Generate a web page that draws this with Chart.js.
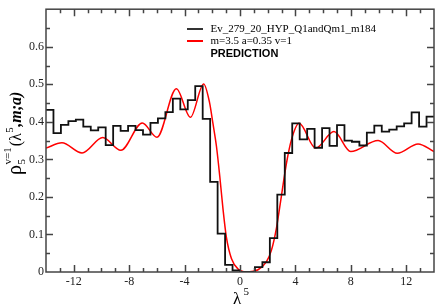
<!DOCTYPE html>
<html>
<head>
<meta charset="utf-8">
<script src="https://cdn.jsdelivr.net/npm/chart.js@4.4.1/dist/chart.umd.min.js"></script>
<style>
  html, body { margin: 0; padding: 0; background: #fff; }
  canvas { display: block; }
</style>
</head>
<body>
<canvas id="chart" width="436" height="307"></canvas>
<script>
// tick labels
const xTickValues = [-12, -8, -4, 0, 4, 8, 12];
const yTickValues = [0, 0.1, 0.2, 0.3, 0.4, 0.5, 0.6];

// histogram: 52 equal bins between histStart and histEnd
const histStart = -14;
const histEnd = 14;
const histValues = [
  0.432, 0.370, 0.392, 0.402, 0.406, 0.387, 0.377, 0.385, 0.338, 0.389,
  0.376, 0.389, 0.378, 0.366, 0.397, 0.409, 0.426, 0.462, 0.433, 0.458,
  0.495, 0.408, 0.240, 0.102, 0.019, 0.004, 0.000, 0.000, 0.013, 0.026,
  0.090, 0.206, 0.317, 0.396, 0.353, 0.381, 0.331, 0.383, 0.336, 0.391,
  0.350, 0.347, 0.337, 0.371, 0.390, 0.374, 0.379, 0.388, 0.396, 0.425,
  0.387, 0.414
];

// prediction curve
const predX = [
  -14.0, -12.85, -11.4, -9.9, -8.6, -7.05, -5.99, -4.59, -3.58, -2.62,
  -2.2, -1.95, -1.70, -1.46, -1.23, -0.98, -0.62, -0.14, 0.55, 1.30,
  1.90, 2.26, 2.63, 2.99, 3.35, 3.71, 4.26, 5.46, 6.78, 7.99,
  9.97, 11.35, 12.85, 14.0
];
const predY = [
  0.330, 0.344, 0.317, 0.358, 0.324, 0.397, 0.359, 0.488, 0.412, 0.501,
  0.452, 0.395, 0.335, 0.255, 0.169, 0.092, 0.036, 0.008, 0.000, 0.006,
  0.027, 0.057, 0.117, 0.203, 0.289, 0.352, 0.396, 0.330, 0.374, 0.321,
  0.350, 0.316, 0.341, 0.321
];

const histLabel = 'Ev_279_20_HYP_Q1andQm1_m184';
const predLabel = 'm=3.5 a=0.35 v=1';
const noteLabel = 'PREDICTION';

const serif = '"Liberation Serif", "Times New Roman", serif';
const sans = '"Liberation Sans", Arial, sans-serif';

const binW = (histEnd - histStart) / histValues.length;
const histData = [];
for (let i = 0; i <= histValues.length; i++) {
  histData.push({ x: histStart + i * binW, y: histValues[Math.min(i, histValues.length - 1)] });
}
const predData = predX.map((x, i) => ({ x: x, y: predY[i] }));

// frame with inward ticks on all four sides
const framePlugin = {
  id: 'frame',
  afterDraw(chart) {
    const { ctx, chartArea: a, scales } = chart;
    const xs = scales.x, ys = scales.y;
    ctx.save();
    ctx.strokeStyle = '#444';
    ctx.lineWidth = 1.5;
    ctx.strokeRect(a.left, a.top, a.right - a.left, a.bottom - a.top);
    ctx.beginPath();
    for (let v = xs.min; v <= xs.max; v += 1) {
      if (v === xs.min || v === xs.max) continue;
      const len = xTickValues.includes(v) ? 7 : 4;
      const px = Math.round(xs.getPixelForValue(v)) + 0.5;
      ctx.moveTo(px, a.bottom); ctx.lineTo(px, a.bottom - len);
      ctx.moveTo(px, a.top); ctx.lineTo(px, a.top + len);
    }
    for (let i = 1; i < 14; i++) {
      const v = i * 0.05;
      const len = i % 2 === 0 ? 7 : 4;
      const py = Math.round(ys.getPixelForValue(v)) + 0.5;
      ctx.moveTo(a.left, py); ctx.lineTo(a.left + len, py);
      ctx.moveTo(a.right, py); ctx.lineTo(a.right - len, py);
    }
    ctx.stroke();
    ctx.restore();
  }
};

// legend in the upper right of the plot
const legendPlugin = {
  id: 'innerLegend',
  afterDraw(chart) {
    const ctx = chart.ctx;
    const sets = chart.data.datasets;
    ctx.save();
    ctx.textBaseline = 'middle';
    ctx.textAlign = 'left';
    const rows = [29, 41];
    sets.forEach((ds, i) => {
      ctx.strokeStyle = ds.legendColor || ds.borderColor;
      ctx.lineWidth = 2;
      ctx.beginPath();
      ctx.moveTo(187, rows[i]);
      ctx.lineTo(203, rows[i]);
      ctx.stroke();
      ctx.fillStyle = '#000';
      ctx.font = '11px ' + serif;
      ctx.fillText(ds.label, 210.5, rows[i] + 0.5);
    });
    ctx.font = 'bold 11px ' + sans;
    ctx.fillText(noteLabel, 210.5, 54);
    ctx.restore();
  }
};

// axis titles with sub/superscripts
const titlePlugin = {
  id: 'titles',
  afterDraw(chart) {
    const ctx = chart.ctx;
    ctx.save();
    ctx.fillStyle = '#000';
    ctx.textBaseline = 'alphabetic';
    ctx.textAlign = 'left';

    // x title: lambda^5
    ctx.font = '17px ' + serif;
    ctx.fillText('\u03bb', 233, 304);
    ctx.font = '11px ' + serif;
    ctx.fillText('5', 243.5, 295);

    // y title: rho_5^{v=1}(lambda^5,m;a)
    ctx.translate(21, 175);
    ctx.rotate(-Math.PI / 2);
    let x = 0;
    ctx.font = '20px ' + serif;
    ctx.fillText('\u03c1', x, 0);
    x += ctx.measureText('\u03c1').width + 0.5;
    ctx.font = '11px ' + serif;
    ctx.fillText('5', x, 4);
    ctx.fillText('v=1', x, -10);
    x += ctx.measureText('v=1').width + 1;
    ctx.font = '16px ' + serif;
    ctx.fillText('(\u03bb', x, 0);
    x += ctx.measureText('(\u03bb').width + 0.5;
    ctx.font = '11px ' + serif;
    ctx.fillText('5', x, -8);
    x += ctx.measureText('5').width + 0.5;
    ctx.font = 'italic bold 16px ' + serif;
    ctx.fillText(',m;a)', x, 0);
    ctx.restore();
  }
};

new Chart(document.getElementById('chart'), {
  type: 'line',
  data: {
    datasets: [
      {
        label: histLabel,
        data: histData,
        stepped: 'before',
        borderColor: '#111',
        legendColor: '#333',
        borderWidth: 1.8,
        pointRadius: 0,
        fill: false
      },
      {
        label: predLabel,
        data: predData,
        cubicInterpolationMode: 'monotone',
        borderColor: '#ff0000',
        borderWidth: 1.5,
        pointRadius: 0,
        fill: false
      }
    ]
  },
  options: {
    responsive: false,
    animation: false,
    devicePixelRatio: 1,
    layout: { padding: { top: 1, right: 2, left: 0, bottom: 0 } },
    plugins: {
      legend: { display: false },
      tooltip: { enabled: false }
    },
    scales: {
      x: {
        type: 'linear',
        min: -14,
        max: 14,
        grid: { display: false, drawTicks: false },
        border: { display: false },
        afterBuildTicks: (scale) => { scale.ticks = xTickValues.map(v => ({ value: v })); },
        afterFit: (scale) => { scale.height = 35; },
        ticks: {
          padding: 3,
          color: '#222',
          maxRotation: 0,
          font: { family: serif, size: 12 },
          callback: (v) => String(v)
        }
      },
      y: {
        type: 'linear',
        min: 0,
        max: 0.7,
        grid: { display: false, drawTicks: false },
        border: { display: false },
        afterBuildTicks: (scale) => { scale.ticks = yTickValues.map(v => ({ value: v })); },
        afterFit: (scale) => { scale.width = 46; },
        ticks: {
          padding: 2,
          color: '#222',
          font: { family: serif, size: 12 },
          callback: (v) => (v === 0 ? '0' : v.toFixed(1))
        }
      }
    }
  },
  plugins: [framePlugin, legendPlugin, titlePlugin]
});
</script>
</body>
</html>
